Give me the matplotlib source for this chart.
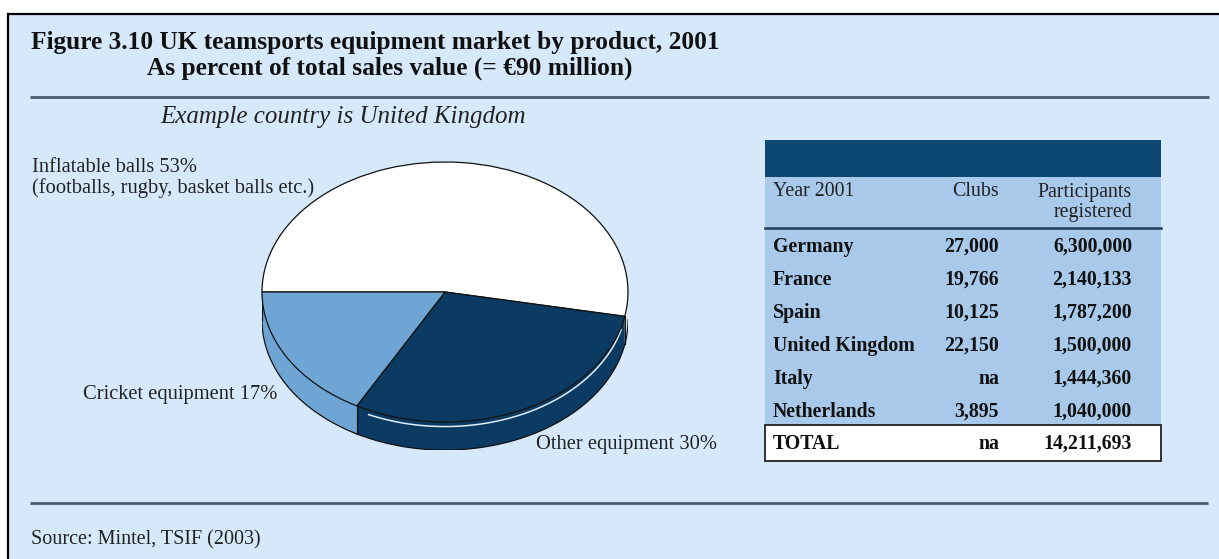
import numpy as np
import matplotlib
matplotlib.use("Agg")
import matplotlib.pyplot as plt
from matplotlib.patches import Rectangle, Polygon

# ---- data ----
products = ["Inflatable balls", "Other equipment", "Cricket equipment"]
shares = [53, 30, 17]
label_texts = ["Inflatable balls 53%\n(footballs, rugby, basket balls etc.)",
               "Other equipment 30%", "Cricket equipment 17%"]

countries = ["Germany", "France", "Spain", "United Kingdom", "Italy", "Netherlands"]
clubs = ["27,000", "19,766", "10,125", "22,150", "na", "3,895"]
participants = ["6,300,000", "2,140,133", "1,787,200", "1,500,000", "1,444,360", "1,040,000"]
total_clubs = "na"
total_participants = "14,211,693"

# ---- style ----
BG = "#d6e9fa"
DARK = "#0b3b62"
LIGHT = "#6fa5d5"
BAND = "#0d4874"
TABLE_BODY = "#a8c9ea"
RULE = "#4b5b6b"
slice_colors = ["white", DARK, LIGHT]
SERIF = ["Liberation Serif", "DejaVu Serif"]
plt.rcParams["font.family"] = SERIF

W, H = 1219, 559
fig = plt.figure(figsize=(W / 100, H / 100), dpi=100, facecolor="white")

# canvas axes in pixel coordinates (y downwards)
cv = fig.add_axes([0, 0, 1, 1])
cv.set_xlim(0, W)
cv.set_ylim(H, 0)
cv.axis("off")

cv.add_patch(Rectangle((8, 14), W + 20, H + 20, facecolor=BG, edgecolor="black", lw=1.6, zorder=0))

cv.text(31, 43, "Figure 3.10 UK teamsports equipment market by product, 2001",
        fontsize=18.3, fontweight="bold", va="center", ha="left", color="#111111")
cv.text(147, 68, "As percent of total sales value (= \u20ac90 million)",
        fontsize=18.3, fontweight="bold", va="center", ha="left", color="#111111")
cv.plot([30, 1209], [97, 97], color=RULE, lw=2, solid_capstyle="butt")
cv.text(160, 117, "Example country is United Kingdom", fontsize=18, style="italic",
        va="center", ha="left", color="#222222")
cv.plot([30, 1208], [503, 503], color=RULE, lw=2, solid_capstyle="butt")
cv.text(31, 540, "Source: Mintel, TSIF (2003)", fontsize=14.5, va="center", ha="left", color="#222222")

# pie labels
lfs = 14.8
cv.text(32, 178, label_texts[0], fontsize=lfs, va="center", ha="left", color="#222222", linespacing=1.05)
cv.text(717, 444, label_texts[1], fontsize=lfs, va="center", ha="right", color="#222222")
cv.text(277, 395, label_texts[2], fontsize=lfs, va="center", ha="right", color="#222222")

# ---- table ----
tx0, tx1 = 765, 1161
cv.add_patch(Rectangle((tx0, 140), tx1 - tx0, 37, facecolor=BAND, edgecolor="none", zorder=1))
cv.add_patch(Rectangle((tx0, 177), tx1 - tx0, 248, facecolor=TABLE_BODY, edgecolor="none", zorder=1))
cv.plot([tx0, tx1], [228, 228], color="#1d3c5c", lw=1.8, zorder=2)
cv.add_patch(Rectangle((tx0, 425), tx1 - tx0, 36, facecolor="white", edgecolor="#222222", lw=1.3, zorder=2))

col_name, col_clubs, col_part = 773, 999, 1132
tfs = 14.3
cv.text(col_name, 192, "Year 2001", fontsize=tfs, va="center", ha="left", color="#222222", zorder=3)
cv.text(col_clubs, 192, "Clubs", fontsize=tfs, va="center", ha="right", color="#222222", zorder=3)
cv.text(col_part, 192, "Participants", fontsize=tfs, va="center", ha="right", color="#222222", zorder=3)
cv.text(col_part, 213, "registered", fontsize=tfs, va="center", ha="right", color="#222222", zorder=3)

row_y = [247, 280, 313, 346, 379, 412]
for y, c, k, p in zip(row_y, countries, clubs, participants):
    cv.text(col_name, y, c, fontsize=tfs, fontweight="bold", va="center", ha="left", color="#111111", zorder=3)
    cv.text(col_clubs, y, k, fontsize=tfs, fontweight="bold", va="center", ha="right", color="#111111", zorder=3)
    cv.text(col_part, y, p, fontsize=tfs, fontweight="bold", va="center", ha="right", color="#111111", zorder=3)
cv.text(col_name, 444, "TOTAL", fontsize=tfs, fontweight="bold", va="center", ha="left", color="#111111", zorder=3)
cv.text(col_clubs, 444, total_clubs, fontsize=tfs, fontweight="bold", va="center", ha="right", color="#111111", zorder=3)
cv.text(col_part, 444, total_participants, fontsize=tfs, fontweight="bold", va="center", ha="right", color="#111111", zorder=3)

# ---- 3D-looking pie ----
px0, px1, py_top, py_bot = 262, 628, 162, 450
ry_px = 130.0
depth = (py_bot - py_top - 2 * ry_px) / ry_px
pax = fig.add_axes([px0 / W, (H - py_bot) / H, (px1 - px0) / W, (py_bot - py_top) / H])
pax.axis("off")

start = 180.0
wedges, _ = pax.pie(shares, colors=slice_colors, startangle=start, counterclock=False,
                    radius=1.0, center=(0, 0),
                    wedgeprops=dict(edgecolor="#111111", linewidth=0.9, zorder=3))
pax.set_aspect("auto")
pax.set_xlim(-1.0, 1.0)
pax.set_ylim(-1.0 - depth, 1.0)

# side wall: visible front half (angles between -180 and 0)
bounds = start - 360.0 * np.concatenate([[0], np.cumsum(shares)]) / sum(shares)
for i, col in enumerate(slice_colors):
    a_hi, a_lo = bounds[i], bounds[i + 1]
    lo, hi = max(a_lo, -180.0), min(a_hi, 0.0)
    if lo >= hi:
        continue
    t = np.radians(np.linspace(lo, hi, 120))
    xs = np.cos(t)
    top = np.sin(t)
    bot = top - depth
    pts = np.vstack([np.column_stack([xs, top]), np.column_stack([xs[::-1], bot[::-1]])])
    pax.add_patch(Polygon(pts, closed=True, facecolor=col, edgecolor="none", zorder=1))
    pax.plot(xs, bot, color="#111111", lw=0.9, zorder=2)
    for a in (lo, hi):
        if -180.0 < a < 0.0:
            r = np.radians(a)
            pax.plot([np.cos(r), np.cos(r)], [np.sin(r), np.sin(r) - depth], color="#111111", lw=0.8, zorder=2)
    if col == DARK:
        th = np.radians(np.linspace(lo + 4, hi - 4, 120))
        pax.plot(np.cos(th) * 0.995, np.sin(th) - 0.035, color="#dfeefc", lw=1.1, zorder=2)

for side in (-1, 1):
    pax.plot([side, side], [0, -depth], color="#111111", lw=0.9, zorder=2)

fig.savefig("out.png", dpi=100, facecolor="white")
